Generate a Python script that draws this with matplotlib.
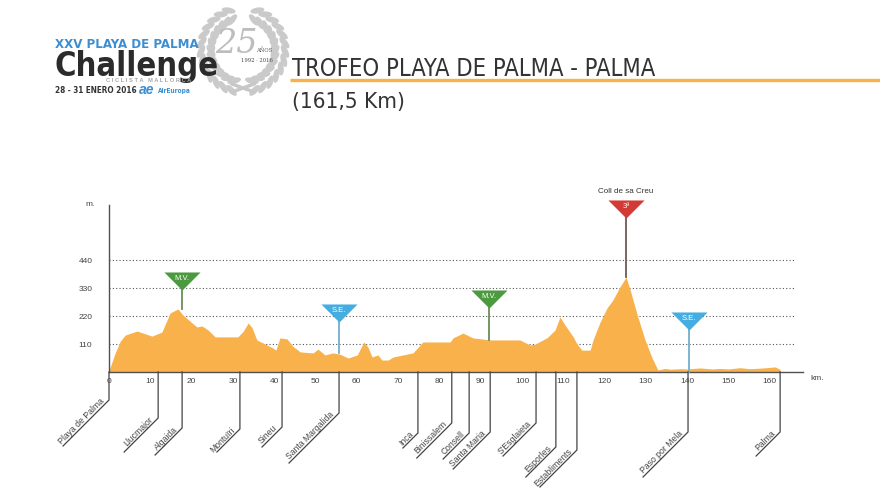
import numpy as np
import matplotlib.pyplot as plt
from matplotlib import font_manager
from matplotlib.font_manager import FontProperties
from matplotlib.path import Path
from matplotlib.patches import Ellipse

# profile of the stage, km / metres
km = [0.0, 1.5, 2.7, 3.9, 6.8, 10.4, 12.8, 14.8, 16.7, 17.9, 19.6, 21.3, 22.5,
      24.0, 25.7, 31.2, 32.5, 33.7, 34.6, 35.8, 37.8, 39.7, 40.4, 41.4, 43.1,
      44.6, 46.3, 49.4, 50.6, 52.3, 54.2, 55.9, 57.9, 60.1, 61.7, 62.7, 63.7,
      65.1, 66.1, 67.6, 68.8, 73.6, 76.0, 82.6, 83.3, 85.7, 88.1, 92.3, 99.5,
      101.9, 103.2, 106.1, 108.0, 109.2, 110.4, 112.4, 113.3, 114.5, 116.5,
      117.2, 118.9, 120.6, 122.0, 123.7, 125.2, 126.2, 127.9, 129.8, 131.5,
      132.9, 134.6, 136.0, 138.3, 140.0, 143.1, 146.0, 147.9, 150.0, 152.8,
      155.0, 157.6, 160.0, 161.3, 162.5]
elev = [5, 75, 120, 145, 161, 141, 157, 232, 248, 224, 200, 177, 181,
        165, 138, 138, 160, 193, 175, 126, 110, 94, 86, 134, 130,
        100, 79, 75, 90, 67, 75, 70, 55, 67, 118, 98, 59,
        67, 47, 47, 59, 75, 118, 118, 134, 153, 134, 126, 126,
        106, 110, 135, 165, 216, 185, 138, 110, 86, 86,
        126, 196, 252, 283, 334, 373, 322, 224, 126, 55,
        8, 14, 11, 13, 12, 16, 12, 14, 12, 17,
        13, 15, 18, 20, 10]

tick_km = list(range(0, 161, 10))
grid_m = [110, 220, 330, 440]

towns = ['Playa de Palma', 'Llucmajor', 'Algaida', 'Montuïri', 'Sineu',
         'Santa Margalida', 'Inca', 'Binissalem', 'Consell', 'Santa Maria',
         "S'Esglaieta", 'Esporles', 'Establiments', 'Paso por Mela', 'Palma']
town_km = [0.0, 11.9, 17.7, 31.7, 41.9, 55.7, 74.8, 83.0, 87.2, 92.3,
           103.4, 108.2, 113.3, 140.2, 162.5]
# leader line: vertical drop and 45 deg run, pixels
town_drop = [28, 46, 56, 57, 55, 41, 61, 51, 61, 60, 51, 75, 78, 60, 60]
town_run = [46, 34, 27, 23, 20, 50, 15, 35, 26, 37, 33, 30, 37, 45, 24]

mark_km = [17.7, 55.7, 92.0, 125.2, 140.4]
mark_text = ['M.V.', 'S.E.', 'M.V.', '3ª', 'S.E.']
mark_level = [356, 230, 285, 640, 200]
mark_ground = [248, 75, 126, 373, 0]
mark_kind = ['mv', 'se', 'mv', 'c3', 'se']

kind_face = {'mv': '#4C9A3F', 'se': '#45ADDF', 'c3': '#D23A35'}
kind_stem = {'mv': '#6B8E5A', 'se': '#74AFCB', 'c3': '#6E5A55'}
orange = '#F9B24B'
ink = '#505050'

plt.rcParams['font.family'] = ['Liberation Sans', 'DejaVu Sans']

# a narrow face for the header if one is installed
cond_reg, cond_bold = None, None
for f in font_manager.fontManager.ttflist:
    n = f.fname.lower()
    if ('narrow' in n or 'condensed' in n) and 'mono' not in n and f.style == 'normal':
        if f.weight in (400, 'normal', 'regular') and cond_reg is None:
            cond_reg = f.fname
        if f.weight in (700, 'bold') and cond_bold is None:
            cond_bold = f.fname


def hfont(bold=False):
    path = cond_bold if bold else cond_reg
    if path:
        return FontProperties(fname=path)
    return FontProperties(family='Liberation Sans', weight='bold' if bold else 'normal')


fig = plt.figure(figsize=(8.8, 4.95), dpi=100)
r = fig.canvas.get_renderer()


def fit(t, width_px):
    w = t.get_window_extent(r).width
    t.set_fontsize(t.get_fontsize() * width_px / w)


# overlay in pixel coordinates for the header
ov = fig.add_axes([0, 0, 1, 1], zorder=0)
ov.set_xlim(0, 880)
ov.set_ylim(495, 0)
ov.axis('off')

# wreath
cx, cy, rr = 243, 50, 37
for side in (-1, 1):
    for a in np.arange(20, 165, 12):
        th = np.radians(a)
        tang = np.degrees(np.arctan2(np.sin(th), side * np.cos(th)))
        for rad, tilt in ((rr - 5, 30), (rr + 5, -30)):
            x = cx + side * rad * np.sin(th)
            y = cy - rad * np.cos(th)
            ov.add_patch(Ellipse((x, y), 14, 6, angle=tang + tilt * side,
                                 color='#CACACA', lw=0))
ov.plot([232, 254], [92, 84], color='#C8C8C8', lw=2.5)
ov.plot([232, 254], [84, 92], color='#C8C8C8', lw=2.5)
ov.text(236, 44, '25', fontsize=24, style='italic', color='#BDBDBD',
        family='DejaVu Serif', ha='center', va='center')
ov.text(256, 50, 'AÑOS', fontsize=3.8, color='#555', family='DejaVu Serif', va='center')
ov.text(241, 61, '1992 · 2016', fontsize=3.8, color='#444', family='DejaVu Serif',
        va='center')

t = ov.text(55, 48, 'XXV PLAYA DE PALMA', color='#3C8ED0', fontproperties=hfont(True))
t.set_fontsize(10)
fit(t, 142)
t = ov.text(54, 76, 'Challenge', color='#2B2B2B', fontproperties=hfont(True))
t.set_fontsize(28)
fit(t, 164)
t = ov.text(106, 81.5, 'C I C L I S T A   M A L L O R C A', color='#A8A8A8', fontsize=3.2,
            weight='bold')
fit(t, 84)
t = ov.text(55, 93, '28 - 31 ENERO 2016', color='#333', fontproperties=hfont(True))
t.set_fontsize(6)
fit(t, 82)
ov.text(139, 94, 'ae', color='#3C8ED0', weight='bold', style='italic', fontsize=10)
t = ov.text(158, 93, 'AirEuropa', color='#3C8ED0', fontproperties=hfont(True))
t.set_fontsize(7)
fit(t, 33)

t = ov.text(292, 76, 'TROFEO PLAYA DE PALMA - PALMA', color='#333',
            fontproperties=hfont())
t.set_fontsize(20)
fit(t, 363)
ov.plot([290, 880], [80, 80], color=orange, lw=2.4, solid_capstyle='butt')
t = ov.text(292, 108, '(161,5 Km)', color='#333', fontproperties=hfont())
t.set_fontsize(18)
fit(t, 113)

# profile axes
xmax = (803 - 109) / 4.13
ymax = (372 - 205) * 3.93
ax = fig.add_axes([109 / 880, (495 - 372) / 495, 694 / 880, 167 / 495], zorder=1)
ax.patch.set_alpha(0)
ax.set_xlim(0, xmax)
ax.set_ylim(0, ymax)
for s in ('top', 'right'):
    ax.spines[s].set_visible(False)
for s in ('left', 'bottom'):
    ax.spines[s].set_color(ink)
    ax.spines[s].set_linewidth(1)

ax.hlines(grid_m, 0, (795 - 109) / 4.13, colors='#555', linestyles=(0, (1, 2)),
          lw=0.8, zorder=1)
ax.fill_between(km, elev, color=orange, lw=0, zorder=2)

ax.set_xticks(tick_km)
ax.set_xticklabels([str(v) for v in tick_km])
ax.set_yticks(grid_m)
ax.tick_params(length=0, labelsize=6, colors='#444')
ax.tick_params(axis='x', pad=4)
ax.tick_params(axis='y', pad=12)
ax.text(1.01, -0.02, 'km.', transform=ax.transAxes, fontsize=6, color='#444', va='top')
ax.text(-0.02, 1.0, 'm.', transform=ax.transAxes, fontsize=6, color='#444', ha='right',
        va='center')

# climb / sprint markers
tri = Path([(-1, 0.5), (1, 0.5), (0, -0.5), (-1, 0.5)],
           [Path.MOVETO, Path.LINETO, Path.LINETO, Path.CLOSEPOLY])
for k, txt, lv, gr, kd in zip(mark_km, mark_text, mark_level, mark_ground, mark_kind):
    ax.plot([k, k], [gr, lv], color=kind_stem[kd], lw=1.3, zorder=3, clip_on=False)
    ax.plot([k], [lv], marker=tri, markersize=26, color=kind_face[kd], mew=0,
            zorder=4, clip_on=False)
    ax.annotate(txt, (k, lv), xytext=(0, 2), textcoords='offset points', ha='center',
                va='center', color='white', fontsize=5.5, zorder=5, annotation_clip=False)
ax.annotate('Coll de sa Creu', (mark_km[3], mark_level[3]), xytext=(0, 10),
            textcoords='offset points', ha='center', va='bottom', fontsize=5.8,
            color='#333', annotation_clip=False)

# town leader lines
inv = ax.transData.inverted()
for name, k, d, run in zip(towns, town_km, town_drop, town_run):
    bx, by = ax.transData.transform((k, 0))
    pts = inv.transform([(bx, by), (bx, by - d), (bx - run, by - d - run)])
    ax.plot(pts[:, 0], pts[:, 1], color='#444', lw=0.9, clip_on=False, zorder=3)
    lx, ly = inv.transform((bx - 3, by - d - 3))
    ax.text(lx, ly, name, rotation=45, rotation_mode='anchor', ha='right', va='bottom',
            fontsize=6.2, color='#444')

fig.savefig('out.png', dpi=100)
